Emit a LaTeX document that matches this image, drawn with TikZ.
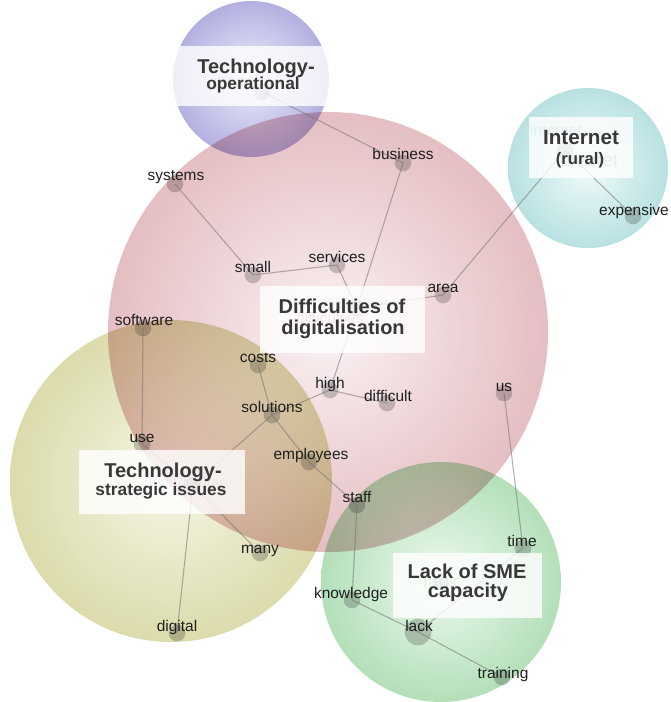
\documentclass[tikz,border=0pt]{standalone}
\usepackage{fontspec}
\setmainfont{Liberation Sans}
\definecolor{redin}{RGB}{250,242,243}
\definecolor{redmid}{RGB}{226,184,188}
\definecolor{redout}{RGB}{196,122,130}
\definecolor{purin}{RGB}{238,238,250}
\definecolor{purmid}{RGB}{172,168,222}
\definecolor{purout}{RGB}{118,110,190}
\definecolor{tealin}{RGB}{240,250,250}
\definecolor{tealmid}{RGB}{178,222,222}
\definecolor{tealout}{RGB}{118,192,192}
\definecolor{olivin}{RGB}{246,246,230}
\definecolor{olivmid}{RGB}{216,216,165}
\definecolor{olivout}{RGB}{182,180,104}
\definecolor{grnin}{RGB}{238,250,239}
\definecolor{grnmid}{RGB}{172,220,178}
\definecolor{grnout}{RGB}{110,186,122}
\pgfdeclareradialshading{redball}{\pgfpoint{0bp}{0bp}}{color(0bp)=(redin); color(28bp)=(redmid); color(50bp)=(redout)}
\pgfdeclareradialshading{purball}{\pgfpoint{0bp}{0bp}}{color(0bp)=(purin); color(28bp)=(purmid); color(50bp)=(purout)}
\pgfdeclareradialshading{tealball}{\pgfpoint{0bp}{0bp}}{color(0bp)=(tealin); color(28bp)=(tealmid); color(50bp)=(tealout)}
\pgfdeclareradialshading{olivball}{\pgfpoint{0bp}{0bp}}{color(0bp)=(olivin); color(28bp)=(olivmid); color(50bp)=(olivout)}
\pgfdeclareradialshading{grnball}{\pgfpoint{0bp}{0bp}}{color(0bp)=(grnin); color(28bp)=(grnmid); color(50bp)=(grnout)}
\begin{document}
\begin{tikzpicture}[x=0.75pt,y=-0.75pt,
  dotnode/.style={circle, fill=black, fill opacity=0.2, draw=none, inner sep=0pt, minimum size=12.5pt},
  bigdot/.style={dotnode, minimum size=20pt},
  lbl/.style={anchor=base, inner sep=0pt, font=\fontsize{11.6}{13}\selectfont, text=black!88},
  link/.style={draw=black!55, line width=0.8pt, draw opacity=0.55},
  tbox/.style={fill=white, fill opacity=0.8, draw=none},
  ghost/.style={anchor=center, inner sep=0pt, text opacity=0.4},
  tbig/.style={anchor=base, inner sep=0pt, font=\bfseries\fontsize{15}{16}\selectfont, text=black!78},
  tsmall/.style={anchor=base, inner sep=0pt, font=\bfseries\fontsize{13}{14}\selectfont, text=black!78},
  ball/.style={blend mode=multiply}
]
\useasboundingbox (0,0) rectangle (670,702);

% theme circles
\shade[shading=redball] (328,332) circle (220);
\shade[shading=purball, ball] (251,79) circle (78);
\shade[shading=tealball, ball] (588,168) circle (80);
\shade[shading=olivball, ball] (171,481) circle (161);
\shade[shading=grnball, ball] (441,582) circle (120);

% concept dots
\node[dotnode] (products) at (262,92) {};
\node[dotnode] (internet) at (565,150) {};
\node[dotnode] (difficulties) at (357,308) {};
\node[dotnode] (technology) at (193,485) {};
\node[dotnode] (lackh) at (441,582) {};
\node[dotnode] (business) at (403,163) {};
\node[dotnode] (systems) at (175,184) {};
\node[dotnode] (services) at (337,265) {};
\node[dotnode] (small) at (253,275) {};
\node[dotnode] (area) at (443,295) {};
\node[dotnode] (software) at (143,328) {};
\node[dotnode] (costs) at (258,365) {};
\node[dotnode] (high) at (330,390) {};
\node[dotnode] (difficult) at (387,403) {};
\node[dotnode] (solutions) at (272,415) {};
\node[dotnode] (us) at (504,393) {};
\node[dotnode] (use) at (142,444) {};
\node[dotnode] (employees) at (309,462) {};
\node[dotnode] (staff) at (357,505) {};
\node[dotnode] (many) at (260,553) {};
\node[dotnode] (time) at (523,548) {};
\node[dotnode] (knowledge) at (352,600) {};
\node[bigdot] (lack) at (418,632) {};
\node[dotnode] (digital) at (177,633) {};
\node[dotnode] (training) at (502,677) {};
\node[dotnode] (expensive) at (633,216) {};

% links
\draw[link] (products.center) -- (business.center);
\draw[link] (business.center) -- (difficulties.center);
\draw[link] (services.center) -- (difficulties.center);
\draw[link] (difficulties.center) -- (area.center);
\draw[link] (difficulties.center) -- (high.center);
\draw[link] (area.center) -- (internet.center);
\draw[link] (internet.center) -- (expensive.center);
\draw[link] (systems.center) -- (small.center);
\draw[link] (small.center) -- (services.center);
\draw[link] (software.center) -- (use.center);
\draw[link] (use.center) -- (technology.center);
\draw[link] (costs.center) -- (solutions.center);
\draw[link] (solutions.center) -- (high.center);
\draw[link] (high.center) -- (difficult.center);
\draw[link] (solutions.center) -- (employees.center);
\draw[link] (employees.center) -- (staff.center);
\draw[link] (solutions.center) -- (technology.center);
\draw[link] (technology.center) -- (many.center);
\draw[link] (technology.center) -- (digital.center);
\draw[link] (staff.center) -- (knowledge.center);
\draw[link] (knowledge.center) -- (lack.center);
\draw[link] (lack.center) -- (training.center);
\draw[link] (lack.center) -- (time.center);
\draw[link] (us.center) -- (time.center);

% concept labels
\node[lbl] (businessL) at (403,160) {business};
\node[lbl] (systemsL) at (176,181) {systems};
\node[lbl] (servicesL) at (337,262) {services};
\node[lbl] (smallL) at (253,272) {small};
\node[lbl] (areaL) at (443,292) {area};
\node[lbl] (softwareL) at (144,325) {software};
\node[lbl] (costsL) at (258,362) {costs};
\node[lbl] (highL) at (330,388) {high};
\node[lbl] (difficultL) at (388,401) {difficult};
\node[lbl] (solutionsL) at (272,412) {solutions};
\node[lbl] (usL) at (504,391) {us};
\node[lbl] (useL) at (142,442) {use};
\node[lbl] (employeesL) at (311,459) {employees};
\node[lbl] (staffL) at (357,502) {staff};
\node[lbl] (manyL) at (260,553) {many};
\node[lbl] (timeL) at (522,546) {time};
\node[lbl] (knowledgeL) at (351,598) {knowledge};
\node[lbl] (lackL) at (419,631) {lack};
\node[lbl] (digitalL) at (177,631) {digital};
\node[lbl] (trainingL) at (503,678) {training};
\node[lbl] (expensiveL) at (634,215) {expensive};

% faint concept names beneath the theme boxes
\node[ghost, font=\fontsize{11.6}{13}\selectfont, text=black!60] (productsG) at (243,83) {products};
\node[ghost, font=\fontsize{11.6}{13}\selectfont, text=teal!70!black] (internetG1) at (556,130) {internet};
\node[ghost, font=\fontsize{14}{15}\selectfont, text=teal!60!black] (internetG2) at (587,160) {internet};
\node[ghost, font=\fontsize{11.6}{13}\selectfont, text=black!60] (difficultiesG) at (357,304) {difficulties};
\node[ghost, font=\fontsize{11.6}{13}\selectfont, text=red!50!black] (difficultiesG2) at (330,318) {difficulties};
\node[ghost, font=\fontsize{11.6}{13}\selectfont, text=black!60] (technologyG) at (186,483) {technology};
\node[ghost, font=\fontsize{15}{16}\selectfont, text=green!45!black] (lackG) at (441,581) {lack};

% theme boxes
\fill[tbox] (170,46) rectangle (332,106);
\fill[tbox] (529,117) rectangle (633,178);
\fill[tbox] (260,286) rectangle (425,353);
\fill[tbox] (79,450) rectangle (245,514);
\fill[tbox] (393,553) rectangle (542,618);

% theme titles
\node[tbig] (t1a) at (256,74) {Technology-};
\node[tsmall] (t1b) at (253,90) {operational};
\node[tbig, font=\bfseries\fontsize{15.5}{16}\selectfont] (t2a) at (581,145) {Internet};
\node[tsmall, font=\bfseries\fontsize{12.5}{14}\selectfont] (t2b) at (580,165) {(rural)};
\node[tbig] (t3a) at (342,313) {Difficulties of};
\node[tbig] (t3b) at (343,334) {digitalisation};
\node[tbig] (t4a) at (163,477) {Technology-};
\node[tsmall] (t4b) at (161,495) {strategic issues};
\node[tbig] (t5a) at (467,578) {Lack of SME};
\node[tbig] (t5b) at (468,597) {capacity};
\end{tikzpicture}
\end{document}
